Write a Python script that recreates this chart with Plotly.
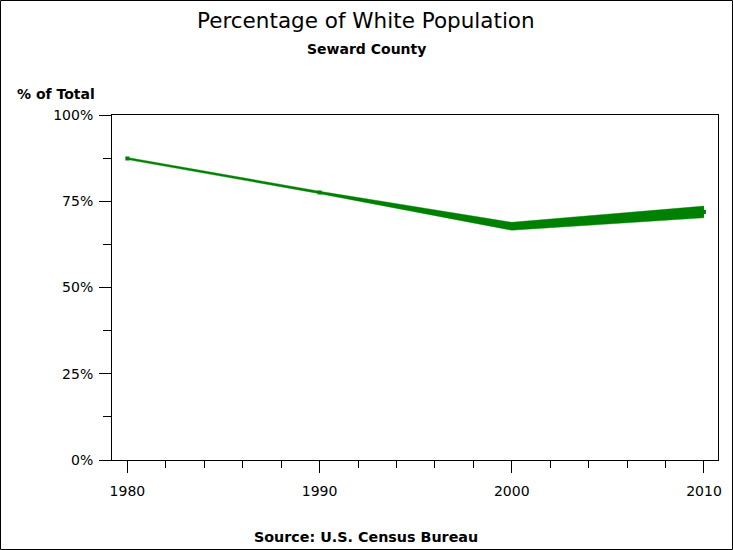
import plotly.graph_objects as go

years = [1980, 1990, 2000, 2010]
pct_upper = [87.7, 77.9, 68.9, 73.6]
pct_lower = [87.1, 77.2, 66.6, 70.2]
pct_mid = [(u + l) / 2 for u, l in zip(pct_upper, pct_lower)]

y_ticks = [0, 25, 50, 75, 100]
y_labels = ["0%", "25%", "50%", "75%", "100%"]
x_ticks = [1980, 1990, 2000, 2010]

green = "#008000"
font_family = "DejaVu Sans, Liberation Sans, Arial, sans-serif"

fig = go.Figure()
fig.add_trace(go.Scatter(x=years, y=pct_lower, mode="lines",
                         line=dict(color=green, width=0.4), hoverinfo="skip",
                         showlegend=False))
fig.add_trace(go.Scatter(x=years, y=pct_upper, mode="lines",
                         line=dict(color=green, width=0.4), fill="tonexty",
                         fillcolor=green, showlegend=False))
fig.add_trace(go.Scatter(x=years, y=pct_mid, mode="markers",
                         marker=dict(color=green, size=4, symbol="square"),
                         showlegend=False))

fig.update_layout(
    width=733, height=550,
    margin=dict(l=112, r=15, t=115, b=90),
    paper_bgcolor="white", plot_bgcolor="white",
    font=dict(family=font_family, color="black", size=14),
    showlegend=False,
    xaxis=dict(range=[1979.2, 2010.73], tickmode="array", tickvals=x_ticks,
               ticktext=[str(v) for v in x_ticks],
               showgrid=False, zeroline=False, showline=True, linecolor="black",
               linewidth=1, mirror=True, ticks="outside", ticklen=12,
               tickcolor="black", tickwidth=1, ticklabelstandoff=6,
               minor=dict(dtick=2, tick0=1980, ticks="outside", ticklen=7,
                          tickcolor="black", showgrid=False),
               tickfont=dict(size=14)),
    yaxis=dict(range=[0, 100], tickmode="array", tickvals=y_ticks,
               ticktext=y_labels,
               showgrid=False, zeroline=False, showline=True, linecolor="black",
               linewidth=1, mirror=True, ticks="outside", ticklen=12,
               tickcolor="black", tickwidth=1, ticklabelstandoff=3,
               minor=dict(dtick=12.5, tick0=0, ticks="outside", ticklen=8,
                          tickcolor="black", showgrid=False),
               tickfont=dict(size=14)),
    annotations=[
        dict(text="Percentage of White Population", xref="paper", yref="paper",
             x=(366 - 112) / 606, y=(460 - 20) / 345, yanchor="middle",
             xanchor="center", showarrow=False, font=dict(size=21.5)),
        dict(text="<b>Seward County</b>", xref="paper", yref="paper",
             x=(366 - 112) / 606, y=(460 - 49) / 345, yanchor="middle",
             xanchor="center", showarrow=False, font=dict(size=14)),
        dict(text="<b>% of Total</b>", xref="paper", yref="paper",
             x=(56 - 112) / 606, y=(460 - 94) / 345, yanchor="middle",
             xanchor="center", showarrow=False, font=dict(size=14)),
        dict(text="<b>Source: U.S. Census Bureau</b>", xref="paper", yref="paper",
             x=(366 - 112) / 606, y=(460 - 537) / 345, yanchor="middle",
             xanchor="center", showarrow=False, font=dict(size=14.3)),
    ],
    shapes=[
        dict(type="rect", xref="paper", yref="paper",
             x0=(0.5 - 112) / 606, x1=(732.5 - 112) / 606,
             y0=(460 - 549.5) / 345, y1=(460 - 0.5) / 345,
             line=dict(color="black", width=1), fillcolor="rgba(0,0,0,0)"),
    ],
)

fig.write_html("out.html", config={"displayModeBar": False},
               post_script="document.body.style.margin='0';document.body.style.padding='0';")
